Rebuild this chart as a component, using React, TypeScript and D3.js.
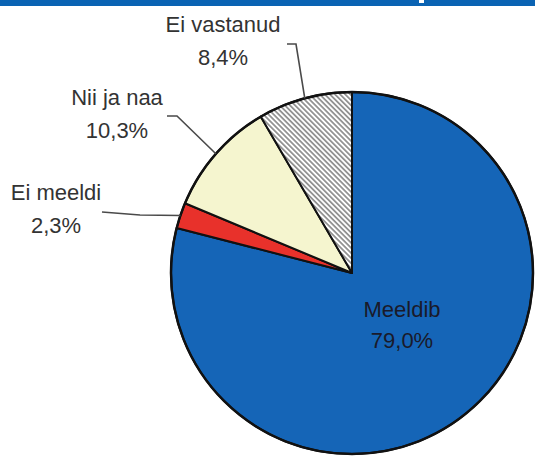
import React from "react";
import * as d3 from "d3";

const categories = ["Meeldib", "Ei meeldi", "Nii ja naa", "Ei vastanud"];
const values = [79.0, 2.3, 10.3, 8.4];
const valueLabels = ["79,0%", "2,3%", "10,3%", "8,4%"];

const W = 535;
const H = 458;
const cx = 352;
const cy = 273;
const R = 181;

const fills = ["#1565b7", "#e8312b", "#f5f5cf", "url(#hatch)"];

// label layout (text centre x, first baseline y, elbow, end of leader)
const layout: Record<string, { x: number; y: number; elbow?: [number, number]; end?: [number, number]; inside?: boolean }> = {
  "Meeldib": { x: 402, y: 317, inside: true },
  "Ei meeldi": { x: 56, y: 200, elbow: [140, 215], end: [102, 212] },
  "Nii ja naa": { x: 117, y: 105, elbow: [177, 116], end: [167, 116] },
  "Ei vastanud": { x: 223, y: 32, elbow: [296, 44], end: [287, 44] },
};

export default function App() {
  const data = categories.map((c, i) => ({ c, v: values[i], lbl: valueLabels[i], i }));
  const pie = d3.pie<any>().sort(null).value((d) => d.v).startAngle(0).endAngle(2 * Math.PI);
  const arcs = pie(data);
  const arc = d3.arc<any>().innerRadius(0).outerRadius(R);
  const edgeArc = d3.arc<any>().innerRadius(R).outerRadius(R);
  const innerLabelArc = d3.arc<any>().innerRadius(156).outerRadius(156);

  return (
    <svg width={W} height={H} style={{ position: "absolute", left: 0, top: 0, background: "#fff" }}>
      <defs>
        <pattern id="hatch" width="3.6" height="3.6" patternUnits="userSpaceOnUse" patternTransform="rotate(45)">
          <rect width="3.6" height="3.6" fill="#ffffff" />
          <line x1="0" y1="0.9" x2="3.6" y2="0.9" stroke="#7d7d7d" strokeWidth="1.5" />
        </pattern>
      </defs>
      <rect x={0} y={0} width={W} height={6} fill="#0a63b3" />
      <rect x={419} y={0} width={5} height={3} fill="#ffffff" />
      <g transform={`translate(${cx},${cy})`}>
        {arcs.map((a, i) => (
          <path key={i} d={arc(a) as string} fill={fills[i]} stroke="#111" strokeWidth={2} strokeLinejoin="round" />
        ))}
        <circle r={R} fill="none" stroke="#111" strokeWidth={2.5} />
      </g>
      {arcs.map((a, i) => {
        const L = layout[a.data.c];
        const fam = "'Liberation Sans', Arial, sans-serif";
        if (L.inside) {
          return (
            <g key={i} fontFamily={fam} fontSize={22} fill="#1a1a2a" textAnchor="middle">
              <text x={L.x} y={L.y}>{a.data.c}</text>
              <text x={L.x} y={L.y + 31}>{a.data.lbl}</text>
            </g>
          );
        }
        const [ax, ay] = edgeArc.centroid(a);
        const pts = [[ax + cx, ay + cy], L.elbow!, L.end!];
        return (
          <g key={i}>
            <path d={d3.line()(pts as [number, number][]) as string} fill="none" stroke="#4a4a4a" strokeWidth={1.6} />
            <g fontFamily={fam} fontSize={22} fill="#333" textAnchor="middle">
              <text x={L.x} y={L.y}>{a.data.c}</text>
              <text x={L.x} y={L.y + 33}>{a.data.lbl}</text>
            </g>
          </g>
        );
      })}
    </svg>
  );
}
